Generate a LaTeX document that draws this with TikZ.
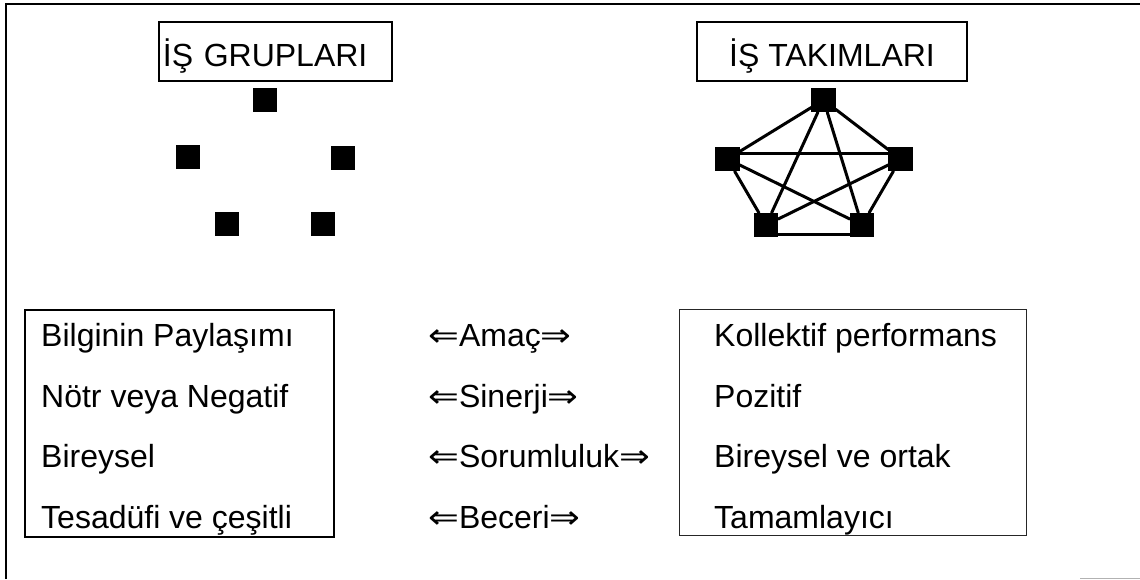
\documentclass[tikz,border=0pt]{standalone}
\usepackage{graphicx}
\usepackage{fontspec}
\setmainfont{Liberation Sans}
\newfontfamily\arrowfont{DejaVu Sans}
\newcommand{\larr}{{\arrowfont\scalebox{1.15}[1]{⇐}}}
\newcommand{\rarr}{{\arrowfont\scalebox{1.15}[1]{⇒}}}
\begin{document}
\begin{tikzpicture}[x=1pt,y=-1pt,
  every node/.style={font=\fontsize{32}{38}\selectfont},
  sq/.style={fill=black, draw=none, minimum size=24pt, inner sep=0pt},
  link/.style={line width=3pt, line cap=round},
  titlebox/.style={draw, line width=1.8pt, inner sep=0pt, text height=44pt, text depth=15pt},
  listbox/.style={draw, inner sep=0pt, anchor=north west},
  item/.style={anchor=base west, inner sep=0pt}
]
\useasboundingbox (0,0) rectangle (1140,579);

% outer frame
\draw[line width=2.2pt] (6,579) -- (6,4) -- (1140,4);
\draw[line width=1pt, gray!60] (1080,578) -- (1140,578);

% titles
\node[titlebox, anchor=base west, text width=225pt, inner xsep=4pt, align=left] (tg) at (158,66) {İŞ GRUPLARI};
\node[titlebox, anchor=base, minimum width=270pt] (tt) at (832,66) {İŞ TAKIMLARI};

% work group: loose members
\node[sq] (g1) at (265,100) {};
\node[sq] (g2) at (188,157) {};
\node[sq] (g3) at (342.5,157.5) {};
\node[sq] (g4) at (226.5,224) {};
\node[sq] (g5) at (323,224) {};

% work team: fully connected members
\node[sq] (t1) at (823.5,100) {};
\node[sq] (t2) at (727.5,159) {};
\node[sq] (t3) at (900.5,159) {};
\node[sq] (t4) at (766,225) {};
\node[sq] (t5) at (862,225) {};
\draw[link] (t1) -- (t2);
\draw[link] (t1) -- (t3);
\draw[link] (t1) -- (t4);
\draw[link] (t1) -- (t5);
\draw[link] ([yshift=-7pt]t2.north east) -- ([yshift=-7pt]t3.north west);
\draw[link] (t2) -- (t4);
\draw[link] (t2) -- (t5);
\draw[link] (t3) -- (t4);
\draw[link] (t3) -- (t5);
\draw[link] ([yshift=3pt]t4.south east) -- ([yshift=3pt]t5.south west);
% squares stay on top of the links
\foreach \n in {t1,t2,t3,t4,t5}
  \fill (\n.north west) rectangle (\n.south east);

% comparison boxes
\node[listbox, line width=1.8pt, minimum width=309pt, minimum height=227pt] (gbox) at (24,309) {};
\node[listbox, line width=1.1pt, draw=black!85, minimum width=347pt, minimum height=226pt] (tbox) at (679,309) {};

% left column
\node[item] (ga) at (41,346) {Bilginin Paylaşımı};
\node[item] (gb) at (41,407) {Nötr veya Negatif};
\node[item] (gc) at (41,467) {Bireysel};
\node[item] (gd) at (41,528) {Tesadüfi ve çeşitli};

% criteria
\node[item] (ca) at (428,346) {\larr Amaç\rarr};
\node[item] (cb) at (428,407) {\larr Sinerji\rarr};
\node[item] (cc) at (428,467) {\larr Sorumluluk\rarr};
\node[item] (cd) at (428,528) {\larr Beceri\rarr};

% right column
\node[item] (ta) at (714,346) {Kollektif performans};
\node[item] (tb) at (714,407) {Pozitif};
\node[item] (tc) at (714,467) {Bireysel ve ortak};
\node[item] (td) at (714,528) {Tamamlayıcı};
\end{tikzpicture}
\end{document}
